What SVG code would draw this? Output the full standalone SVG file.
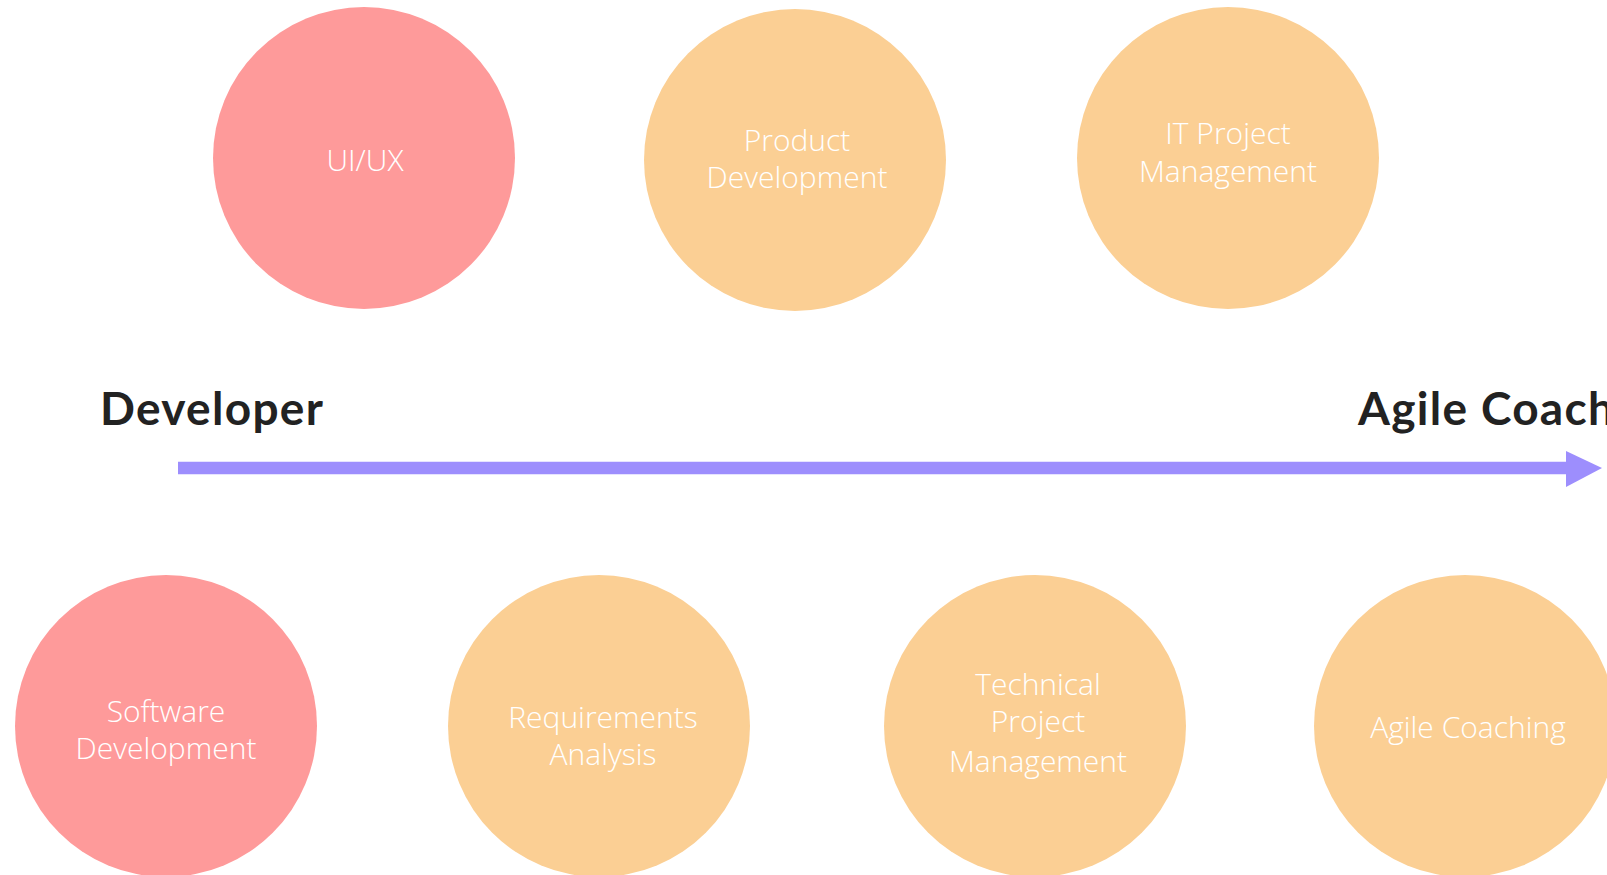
<svg xmlns="http://www.w3.org/2000/svg" width="1607" height="875" viewBox="0 0 1607 875">
<style>
.pink{fill:#FE9A9A}
.orange{fill:#FBCF94}
.lbl{font-family:"Open Sans",Lato,"Liberation Sans",sans-serif;font-size:30px;fill:#FFFFFF;text-anchor:middle;font-weight:300}
.head{font-family:Lato,"Open Sans","Liberation Sans",sans-serif;font-size:46px;font-weight:700;fill:#222222;letter-spacing:1.3px}
</style>
<rect width="1607" height="875" fill="#FFFFFF"/>
<g id="connectors">
<line x1="178" y1="468" x2="1568" y2="468" stroke="#9D8EFD" stroke-width="12.5"/>
<polygon points="1566,451 1602,468 1566,487" fill="#9D8EFD"/>
</g>
<g id="label-developer"><text class="head" x="100" y="425">Developer</text></g>
<g id="label-agile-coach"><text class="head" x="1358" y="425">Agile Coach</text></g>
<g id="node-uiux">
<circle class="pink" cx="364" cy="158" r="151"/>
<text class="lbl" x="365" y="171">UI/UX</text>
</g>
<g id="node-product-development">
<circle class="orange" cx="795" cy="160" r="151"/>
<text class="lbl" x="797" y="151">Product</text>
<text class="lbl" x="797" y="188">Development</text>
</g>
<g id="node-it-project-management">
<circle class="orange" cx="1228" cy="158" r="151"/>
<text class="lbl" x="1228" y="144">IT Project</text>
<text class="lbl" x="1228" y="182">Management</text>
</g>
<g id="node-software-development">
<circle class="pink" cx="166" cy="726" r="151"/>
<text class="lbl" x="166" y="722">Software</text>
<text class="lbl" x="166" y="759">Development</text>
</g>
<g id="node-requirements-analysis">
<circle class="orange" cx="599" cy="726" r="151"/>
<text class="lbl" x="603" y="728">Requirements</text>
<text class="lbl" x="603" y="765">Analysis</text>
</g>
<g id="node-technical-project-management">
<circle class="orange" cx="1035" cy="726" r="151"/>
<text class="lbl" x="1038" y="695">Technical</text>
<text class="lbl" x="1038" y="732">Project</text>
<text class="lbl" x="1038" y="772">Management</text>
</g>
<g id="node-agile-coaching">
<circle class="orange" cx="1465" cy="726" r="151"/>
<text class="lbl" x="1468" y="738">Agile Coaching</text>
</g>
</svg>
